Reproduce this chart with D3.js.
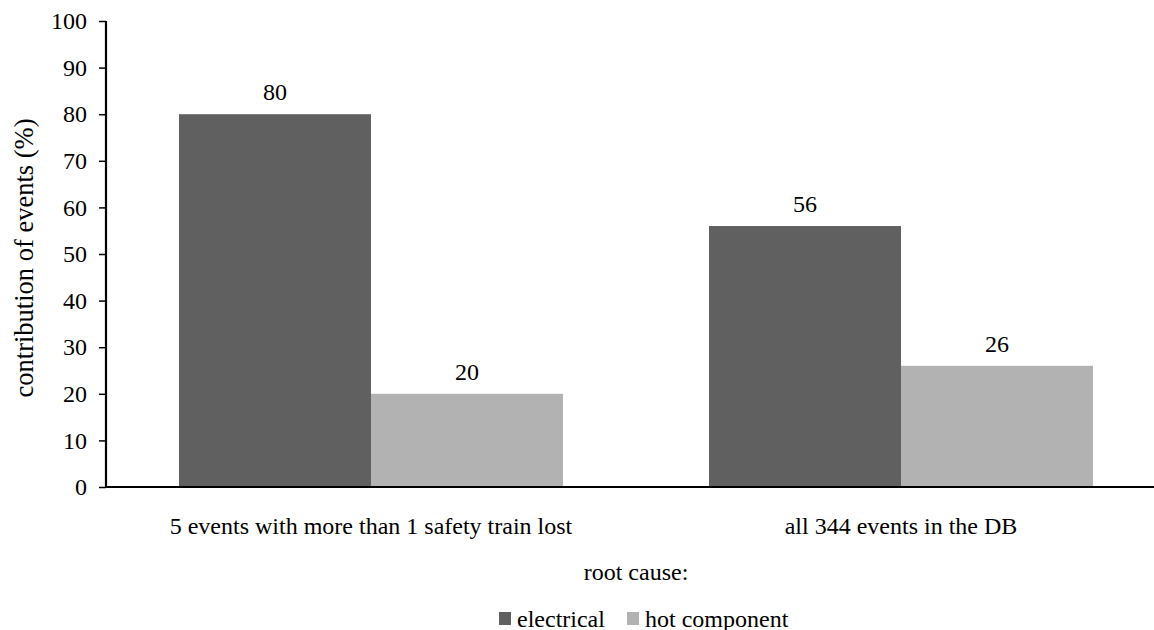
<!DOCTYPE html>
<html>
<head>
<meta charset="utf-8">
<script src="https://cdn.jsdelivr.net/npm/d3@7"></script>
<style>
  html, body { margin: 0; padding: 0; background: #fff; }
  svg { display: block; }
  svg text { font-family: 'Liberation Serif', 'Times New Roman', serif; fill: #000; }
</style>
</head>
<body>
<svg id="chart" width="1154" height="630"></svg>
<script>
const categories = ["5 events with more than 1 safety train lost", "all 344 events in the DB"];
const seriesNames = ["electrical", "hot component"];
const electrical = [80, 56];
const hotComponent = [20, 26];
const yTicks = [0, 10, 20, 30, 40, 50, 60, 70, 80, 90, 100];
const colors = ["#606060", "#b2b2b2"];

const svg = d3.select("#chart");
const mLeft = 106, mRight = 1166, mTop = 21, mBottom = 487;
const FS = 24;
const FONT = "'Liberation Serif', 'Times New Roman', serif";

const y = d3.scaleLinear().domain([0, 100]).range([mBottom, mTop]);
const x0 = d3.scaleBand().domain(categories).range([mLeft, mRight]).paddingInner(0.2755).paddingOuter(0.1377);
const x1 = d3.scaleBand().domain(seriesNames).range([0, x0.bandwidth()]);
const color = d3.scaleOrdinal().domain(seriesNames).range(colors);

const rows = categories.map((c, i) => ({ cat: c, values: [
  { name: seriesNames[0], v: electrical[i] },
  { name: seriesNames[1], v: hotComponent[i] }
]}));

// bars
const g = svg.append("g");
const grp = g.selectAll("g.grp").data(rows).join("g")
  .attr("transform", d => `translate(${x0(d.cat)},0)`);
grp.selectAll("rect").data(d => d.values).join("rect")
  .attr("x", d => x1(d.name))
  .attr("y", d => y(d.v))
  .attr("width", x1.bandwidth())
  .attr("height", d => y(0) - y(d.v))
  .attr("fill", d => color(d.name));
grp.selectAll("text.val").data(d => d.values).join("text")
  .attr("class", "val")
  .attr("x", d => x1(d.name) + x1.bandwidth() / 2)
  .attr("y", d => y(d.v) - 14)
  .attr("text-anchor", "middle")
  .style("font-family", FONT)
  .style("font-size", FS + "px")
  .text(d => d.v);

// y axis
const yAxis = svg.append("g").attr("transform", `translate(${mLeft},0)`)
  .call(d3.axisLeft(y).tickValues(yTicks).tickSize(7).tickPadding(12).tickSizeOuter(0));
yAxis.select(".domain").attr("stroke", "#000").attr("stroke-width", 2.2)
  .attr("d", `M0,${mTop}V${mBottom}`);
yAxis.selectAll(".tick line").attr("stroke", "#000").attr("stroke-width", 1.5);
yAxis.selectAll(".tick text").style("font-size", FS + "px").attr("fill", "#000").style("font-family", FONT);

// x axis
const xAxis = svg.append("g").attr("transform", `translate(0,${mBottom})`)
  .call(d3.axisBottom(x0).tickSize(0).tickPadding(30));
xAxis.select(".domain").attr("stroke", "#000").attr("stroke-width", 2.2)
  .attr("d", `M${mLeft - 1},0H${mRight}`);
xAxis.selectAll(".tick text").style("font-size", FS + "px").attr("fill", "#000").style("font-family", FONT);

// y label
svg.append("text")
  .attr("transform", `translate(33,258) rotate(-90)`)
  .attr("text-anchor", "middle")
  .style("font-family", FONT)
  .style("font-size", "26.5px")
  .text("contribution of events (%)");

// x label
svg.append("text")
  .attr("x", (mLeft + mRight) / 2)
  .attr("y", 580)
  .attr("text-anchor", "middle")
  .style("font-family", FONT)
  .style("font-size", FS + "px")
  .text("root cause:");

// legend
const legend = svg.append("g");
const legX = [499, 627];
seriesNames.forEach((n, i) => {
  legend.append("rect").attr("x", legX[i]).attr("y", 612).attr("width", 12).attr("height", 13)
    .attr("fill", color(n));
  legend.append("text").attr("x", legX[i] + 18).attr("y", 627)
    .style("font-family", FONT)
    .style("font-size", FS + "px").text(n);
});
</script>
</body>
</html>
